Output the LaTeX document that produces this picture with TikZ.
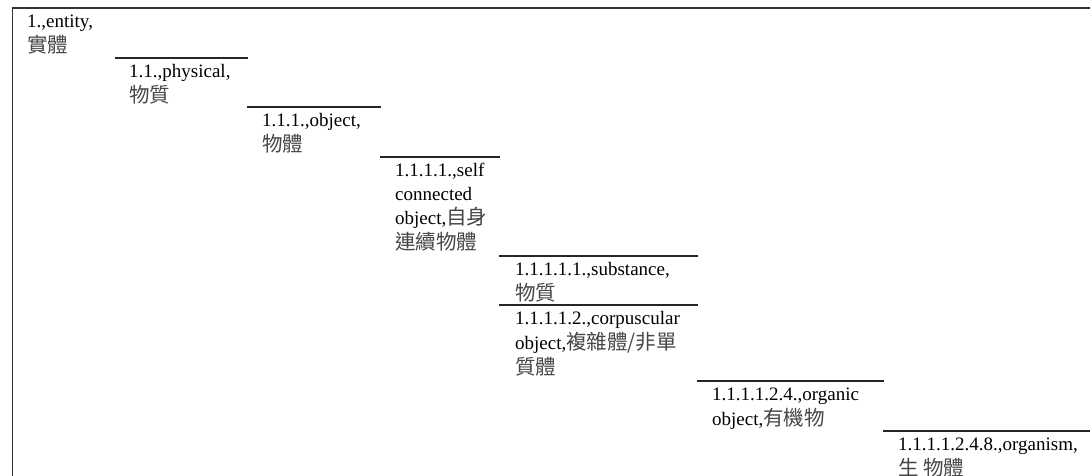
\documentclass[tikz,border=0pt]{standalone}
\usepackage{fontspec}
\setmainfont{Liberation Serif}
\newfontfamily\cjk{Noto Sans CJK TC}[Scale=1.08]
\newcommand\zh[1]{{\cjk\color{black!72}#1}}
\tikzset{
  cell/.style={anchor=north west, inner sep=0pt, align=left,
    font=\fontsize{19}{24.3}\selectfont, text=black},
  rule/.style={line width=1.1pt, draw=black!85},
  frame/.style={line width=1.3pt, draw=black!80}
}
\begin{document}
\begin{tikzpicture}[x=1pt,y=-1pt]
\useasboundingbox (0,0) rectangle (1090,476);
\clip (0,0) rectangle (1090,476);
\fill[white] (0,0) rectangle (1090,476);
% frame
\draw[frame] (1100,8) -- (12.5,8) -- (12.5,490);
% cell rules
\coordinate (a1) at (115,58);   \coordinate (b1) at (248,58);
\coordinate (a2) at (247,107);  \coordinate (b2) at (381,107);
\coordinate (a3) at (380,157);  \coordinate (b3) at (500,157);
\coordinate (a4) at (499,256);  \coordinate (b4) at (698,256);
\coordinate (a5) at (499,305);  \coordinate (b5) at (698,305);
\coordinate (a6) at (697,381);  \coordinate (b6) at (884,381);
\coordinate (a7) at (883,431);  \coordinate (b7) at (1100,431);
\foreach \i in {1,...,7} { \draw[rule] (a\i) -- (b\i); }
% texts
\node[cell] (n1) at (27,10) {\strut 1.,entity,\\\zh{實體}};
\node[cell] (n11) at (129,60) {\strut 1.1.,physical,\\\zh{物質}};
\node[cell] (n111) at (262,109) {\strut 1.1.1.,object,\\\zh{物體}};
\node[cell] (n1111) at (395,159) {\strut 1.1.1.1.,self\\connected\\object,\zh{自身}\\\zh{連續物體}};
\node[cell] (n11111) at (515,258) {\strut 1.1.1.1.1.,substance,\\\zh{物質}};
\node[cell] (n11112) at (515,307) {\strut 1.1.1.1.2.,corpuscular\\object,\zh{複雜體/非單}\\\zh{質體}};
\node[cell] (n111124) at (712,383) {\strut 1.1.1.1.2.4.,organic\\object,\zh{有機物}};
\node[cell] (n1111248) at (898,433) {\strut 1.1.1.1.2.4.8.,organism,\\\zh{生 物體}};
\end{tikzpicture}
\end{document}
